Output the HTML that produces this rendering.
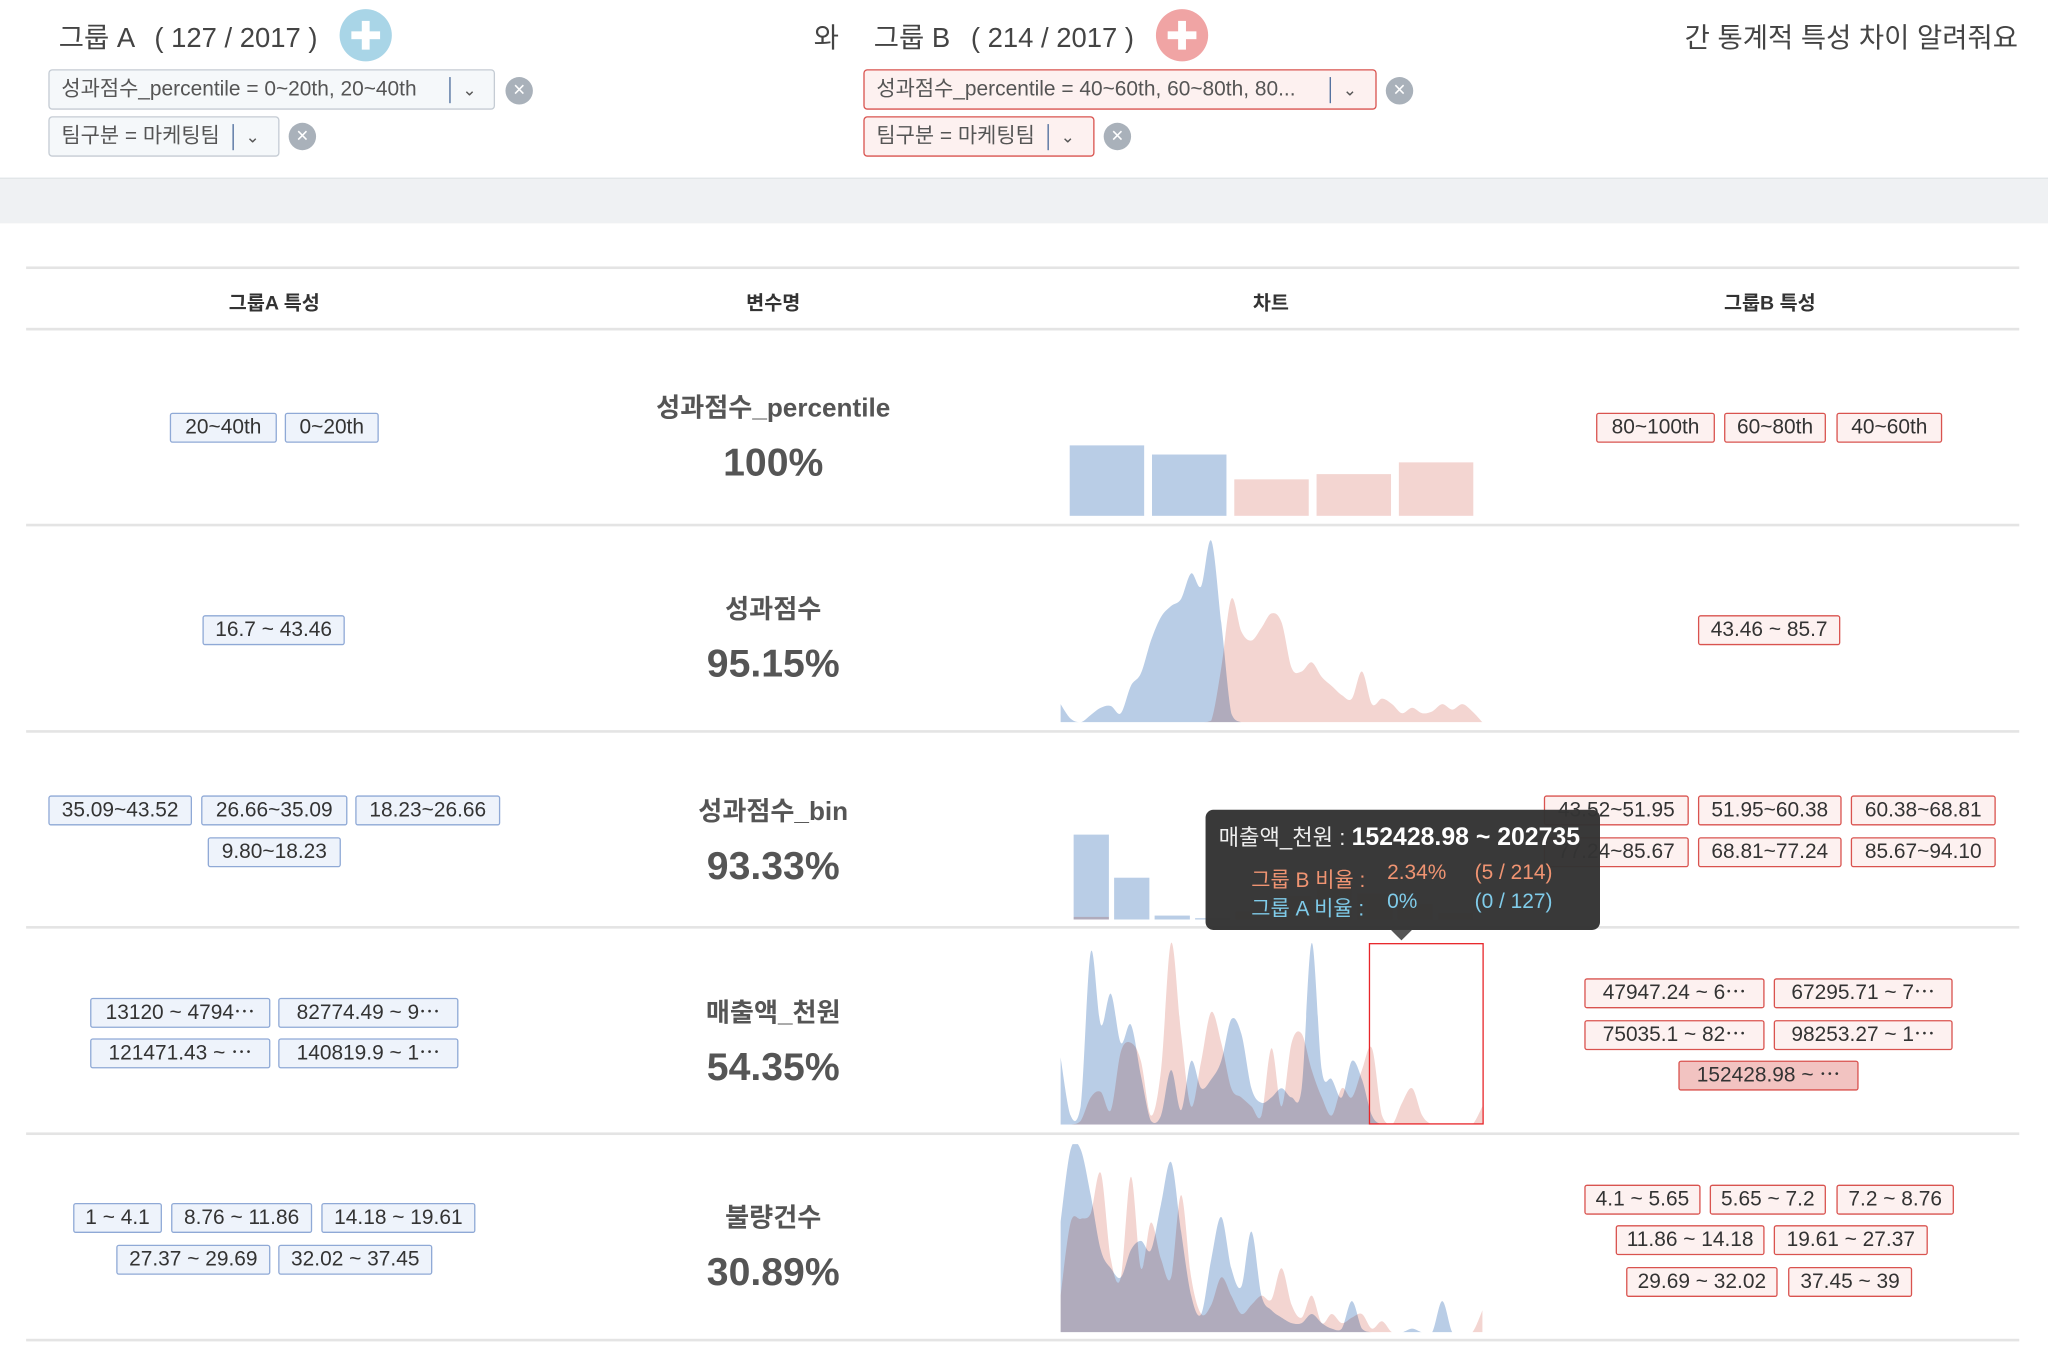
<!DOCTYPE html>
<html><head><meta charset="utf-8">
<style>
html,body{margin:0;padding:0;background:#fff;}
body{width:2048px;height:1348px;overflow:hidden;position:relative;}
#stage{position:absolute;left:0;top:0;width:1568px;height:1032px;transform:scale(1.306122);transform-origin:0 0;font-family:"Liberation Sans Narrow","Liberation Sans","Noto Sans CJK KR",sans-serif;color:#444;}
.abs{position:absolute;}
.t{position:absolute;white-space:nowrap;}
.tag{position:absolute;box-sizing:border-box;height:23px;line-height:21px;font-size:16px;text-align:center;border-radius:2px;white-space:nowrap;overflow:hidden;color:#333;}
.ta{border:1px solid #8fa9d6;background:#eef3fb;}
.tb{border:1px solid #d9534f;background:#fdf1f0;}
.hl{background:#f2c3c1;}
.chip{position:absolute;box-sizing:border-box;height:31px;line-height:29px;font-size:16px;padding-left:9px;border-radius:3px;color:#555;white-space:nowrap;}
.ca{border:1px solid #c5ccd4;background:#f5f8fa;}
.cb{border:1.5px solid #d9534f;background:#fdf1f0;}
.sep{position:absolute;top:5px;width:1px;height:20px;background:#4a6a9a;}
.chev{position:absolute;top:0;font-size:13px;color:#555;}
.xc{position:absolute;width:21px;height:21px;border-radius:50%;background:#a9b1ba;color:#fff;text-align:center;line-height:21px;font-size:16px;}
.hline{position:absolute;left:20px;width:1526px;height:2px;background:#e4e4e4;}
.th{position:absolute;top:221px;font-size:15px;font-weight:bold;color:#333;transform:translateX(-50%);}
.vn{position:absolute;left:592px;transform:translateX(-50%);font-size:20px;font-weight:bold;color:#555;white-space:nowrap;}
.pc{position:absolute;left:592px;transform:translateX(-50%);font-size:30px;font-weight:bold;color:#555;}
svg{position:absolute;overflow:hidden;}
</style></head>
<body>
<div id="stage">
  <!-- header -->
  <div class="t" style="left:45px;top:13px;font-size:21px;">그룹 A <span style="margin-left:10px;">( 127 / 2017 )</span></div>
  <div class="abs" style="left:260px;top:7px;width:40px;height:40px;border-radius:50%;background:#a9d5e7;">
    <div class="abs" style="left:9px;top:17px;width:22px;height:6px;background:#fff;"></div>
    <div class="abs" style="left:17px;top:9px;width:6px;height:22px;background:#fff;"></div>
  </div>
  <div class="t" style="left:623px;top:13px;font-size:21px;">와</div>
  <div class="t" style="left:669px;top:13px;font-size:21px;">그룹 B <span style="margin-left:10px;">( 214 / 2017 )</span></div>
  <div class="abs" style="left:885px;top:7px;width:40px;height:40px;border-radius:50%;background:#f0a4a4;">
    <div class="abs" style="left:9px;top:17px;width:22px;height:6px;background:#fff;"></div>
    <div class="abs" style="left:17px;top:9px;width:6px;height:22px;background:#fff;"></div>
  </div>
  <div class="t" style="right:23px;top:13px;font-size:21px;">간 통계적 특성 차이 알려줘요</div>

  <div class="chip ca" style="left:37px;top:53px;width:342px;">성과점수_percentile = 0~20th, 20~40th<div class="sep" style="left:306px;"></div><div class="chev" style="left:316px;">&#8964;</div></div>
  <div class="xc" style="left:387px;top:59px;">×</div>
  <div class="chip ca" style="left:37px;top:89px;width:177px;">팀구분 = 마케팅팀<div class="sep" style="left:140px;"></div><div class="chev" style="left:150px;">&#8964;</div></div>
  <div class="xc" style="left:221px;top:94px;">×</div>

  <div class="chip cb" style="left:661px;top:53px;width:393px;">성과점수_percentile = 40~60th, 60~80th, 80...<div class="sep" style="left:356px;"></div><div class="chev" style="left:366px;">&#8964;</div></div>
  <div class="xc" style="left:1061px;top:59px;">×</div>
  <div class="chip cb" style="left:661px;top:89px;width:177px;">팀구분 = 마케팅팀<div class="sep" style="left:140px;"></div><div class="chev" style="left:150px;">&#8964;</div></div>
  <div class="xc" style="left:845px;top:94px;">×</div>

  <div class="abs" style="left:0;top:136px;width:1568px;height:34px;background:#eff1f3;border-top:1px solid #e2e5e8;"></div>

  <!-- table -->
  <div class="hline" style="top:204px;"></div>
  <div class="th" style="left:210px;">그룹A 특성</div>
  <div class="th" style="left:592px;">변수명</div>
  <div class="th" style="left:973px;">차트</div>
  <div class="th" style="left:1355px;">그룹B 특성</div>
  <div class="hline" style="top:251px;"></div>
  <div class="hline" style="top:401px;"></div>
  <div class="hline" style="top:559px;"></div>
  <div class="hline" style="top:709px;"></div>
  <div class="hline" style="top:867px;"></div>
  <div class="hline" style="top:1025px;"></div>

  <!-- row 1 -->
  <div class="vn" style="top:296px;">성과점수_percentile</div>
  <div class="pc" style="top:338px;">100%</div>
  <div class="tag ta" style="left:130px;top:316px;width:82px;">20~40th</div>
  <div class="tag ta" style="left:218px;top:316px;width:72px;">0~20th</div>
  <div class="tag tb" style="left:1222px;top:316px;width:91px;">80~100th</div>
  <div class="tag tb" style="left:1320px;top:316px;width:78px;">60~80th</div>
  <div class="tag tb" style="left:1406px;top:316px;width:81px;">40~60th</div>

  <!-- row 2 -->
  <div class="vn" style="top:450px;">성과점수</div>
  <div class="pc" style="top:492px;">95.15%</div>
  <div class="tag ta" style="left:155px;top:471px;width:109px;">16.7 ~ 43.46</div>
  <div class="tag tb" style="left:1300px;top:471px;width:109px;">43.46 ~ 85.7</div>

  <!-- row 3 -->
  <div class="vn" style="top:605px;">성과점수_bin</div>
  <div class="pc" style="top:647px;">93.33%</div>
  <div class="tag ta" style="left:37px;top:609px;width:110px;">35.09~43.52</div>
  <div class="tag ta" style="left:154px;top:609px;width:112px;">26.66~35.09</div>
  <div class="tag ta" style="left:272px;top:609px;width:111px;">18.23~26.66</div>
  <div class="tag ta" style="left:159px;top:641px;width:102px;">9.80~18.23</div>
  <div class="tag tb" style="left:1182px;top:609px;width:111px;">43.52~51.95</div>
  <div class="tag tb" style="left:1300px;top:609px;width:110px;">51.95~60.38</div>
  <div class="tag tb" style="left:1417px;top:609px;width:111px;">60.38~68.81</div>
  <div class="tag tb" style="left:1182px;top:641px;width:111px;">77.24~85.67</div>
  <div class="tag tb" style="left:1300px;top:641px;width:110px;">68.81~77.24</div>
  <div class="tag tb" style="left:1417px;top:641px;width:111px;">85.67~94.10</div>

  <!-- row 4 -->
  <div class="vn" style="top:759px;">매출액_천원</div>
  <div class="pc" style="top:801px;">54.35%</div>
  <div class="tag ta" style="left:69px;top:764px;width:138px;">13120 ~ 4794⋯</div>
  <div class="tag ta" style="left:213px;top:764px;width:138px;">82774.49 ~ 9⋯</div>
  <div class="tag ta" style="left:69px;top:795px;width:138px;">121471.43 ~ ⋯</div>
  <div class="tag ta" style="left:213px;top:795px;width:138px;">140819.9 ~ 1⋯</div>
  <div class="tag tb" style="left:1213px;top:749px;width:138px;">47947.24 ~ 6⋯</div>
  <div class="tag tb" style="left:1358px;top:749px;width:137px;">67295.71 ~ 7⋯</div>
  <div class="tag tb" style="left:1213px;top:781px;width:138px;">75035.1 ~ 82⋯</div>
  <div class="tag tb" style="left:1358px;top:781px;width:137px;">98253.27 ~ 1⋯</div>
  <div class="tag tb hl" style="left:1285px;top:812px;width:138px;">152428.98 ~ ⋯</div>

  <!-- row 5 -->
  <div class="vn" style="top:916px;">불량건수</div>
  <div class="pc" style="top:958px;">30.89%</div>
  <div class="tag ta" style="left:56px;top:921px;width:68px;">1 ~ 4.1</div>
  <div class="tag ta" style="left:131px;top:921px;width:108px;">8.76 ~ 11.86</div>
  <div class="tag ta" style="left:246px;top:921px;width:118px;">14.18 ~ 19.61</div>
  <div class="tag ta" style="left:89px;top:953px;width:118px;">27.37 ~ 29.69</div>
  <div class="tag ta" style="left:213px;top:953px;width:118px;">32.02 ~ 37.45</div>
  <div class="tag tb" style="left:1213px;top:907px;width:89px;">4.1 ~ 5.65</div>
  <div class="tag tb" style="left:1309px;top:907px;width:89px;">5.65 ~ 7.2</div>
  <div class="tag tb" style="left:1406px;top:907px;width:90px;">7.2 ~ 8.76</div>
  <div class="tag tb" style="left:1237px;top:938px;width:114px;">11.86 ~ 14.18</div>
  <div class="tag tb" style="left:1358px;top:938px;width:118px;">19.61 ~ 27.37</div>
  <div class="tag tb" style="left:1245px;top:970px;width:116px;">29.69 ~ 32.02</div>
  <div class="tag tb" style="left:1369px;top:970px;width:95px;">37.45 ~ 39</div>

  <!-- charts -->
  <svg id="c1" style="left:812px;top:325px;" width="323" height="70"></svg>
  <svg id="c2" style="left:812px;top:410px;" width="323" height="143"></svg>
  <svg id="c3" style="left:812px;top:620px;" width="323" height="84"></svg>
  <svg id="c4" style="left:812px;top:718px;" width="323" height="143"></svg>
  <svg id="c5" style="left:812px;top:876px;" width="323" height="144"></svg>
  <div class="abs" style="left:1048px;top:722px;width:86px;height:137px;border:1.5px solid #e8262a;"></div>

  <!-- tooltip -->
  <div class="abs" style="left:923px;top:620px;width:302px;height:92px;background:#333;border-radius:6px;opacity:0.97;">
    <div class="t" style="left:10px;top:7px;font-size:17px;color:#eee;">매출액_천원 : <b style="color:#fff;font-size:19px;">152428.98 ~ 202735</b></div>
    <div class="t" style="left:35px;top:40px;font-size:16px;color:#f0916e;">그룹 B 비율 :</div>
    <div class="t" style="left:139px;top:40px;font-size:16px;color:#f0916e;">2.34%</div>
    <div class="t" style="left:206px;top:40px;font-size:16px;color:#f0916e;">(5 / 214)</div>
    <div class="t" style="left:35px;top:62px;font-size:16px;color:#7ccbea;">그룹 A 비율 :</div>
    <div class="t" style="left:139px;top:62px;font-size:16px;color:#7ccbea;">0%</div>
    <div class="t" style="left:206px;top:62px;font-size:16px;color:#7ccbea;">(0 / 127)</div>
  </div>
  <div class="abs" style="left:1065px;top:712px;width:0;height:0;border-left:8px solid transparent;border-right:8px solid transparent;border-top:8px solid #555;"></div>
</div>
<script>
// ---- data ----
const pctCategories = ["0~20th","20~40th","40~60th","60~80th","80~100th"];
const pctGroupA = [54, 47, 0, 0, 0];
const pctGroupB = [0, 0, 28, 32, 41];

const binCategories = ["9.80~18.23","18.23~26.66","26.66~35.09","35.09~43.52","43.52~51.95","51.95~60.38","60.38~68.81","68.81~77.24","77.24~85.67","85.67~94.10"];
const binGroupA = [65, 32, 3, 1, 0, 0, 0, 0, 0, 0];
const binGroupB = [2, 0, 0, 0, 6, 18, 26, 20, 12, 5];

const scoreDensityA = [0.1,0.02,0,0.04,0.08,0.09,0.05,0.2,0.27,0.45,0.58,0.64,0.68,0.82,0.75,1.0,0.55,0.05,0,0,0,0,0,0,0,0,0,0,0,0,0,0,0,0,0,0,0,0,0,0,0,0,0];
const scoreDensityB = [0,0,0,0,0,0,0,0,0,0,0,0,0,0,0,0.01,0.3,0.68,0.5,0.45,0.52,0.6,0.55,0.3,0.28,0.33,0.25,0.2,0.15,0.13,0.28,0.1,0.13,0.1,0.05,0.08,0.05,0.06,0.1,0.07,0.1,0.06,0];

const salesDensityA = [0.37,0.05,0.1,0.95,0.55,0.72,0.45,0.55,0.27,0.02,0.05,0.3,0.08,0.35,0.2,0.25,0.35,0.58,0.5,0.2,0.12,0.15,0.2,0.15,0.2,1.0,0.3,0.25,0.15,0.35,0.25,0.05,0,0,0,0,0,0,0,0,0,0,0];
const salesDensityB = [0,0,0.02,0.15,0.18,0.08,0.4,0.45,0.35,0.05,0.3,1.0,0.5,0.1,0.35,0.62,0.45,0.2,0.15,0.1,0.05,0.42,0.1,0.45,0.5,0.3,0.15,0.05,0.2,0.15,0.3,0.42,0.05,0,0.12,0.2,0.05,0,0,0,0,0,0.1];

const defectDensityA = [0.6,1.0,1.0,0.75,0.45,0.35,0.3,0.45,0.5,0.45,0.7,0.93,0.55,0.2,0.1,0.4,0.63,0.35,0.25,0.55,0.2,0.12,0.08,0.05,0.05,0.1,0.05,0.02,0.02,0.17,0.02,0,0,0,0,0.02,0,0,0.17,0,0,0,0];
const defectDensityB = [0.2,0.6,0.62,0.65,0.87,0.4,0.3,0.85,0.35,0.6,0.4,0.3,0.75,0.3,0.1,0.15,0.3,0.2,0.1,0.15,0.2,0.18,0.35,0.15,0.08,0.2,0.05,0.1,0.05,0.08,0.1,0.02,0.06,0,0,0,0,0,0,0,0,0,0.12];

const BLUE = "#b9cde6", PINK = "#f3d5d1";
const NS = "http://www.w3.org/2000/svg";

function mk(tag, attrs){ const e = document.createElementNS(NS, tag); for (const k in attrs) e.setAttribute(k, attrs[k]); return e; }

function barChart(svgId, a, b, maxV, barW, step, x0){
  const svg = document.getElementById(svgId);
  const H = +svg.getAttribute("height");
  const y = v => H - v / maxV * H;
  for (let i = 0; i < a.length; i++){
    const x = x0 + i * step;
    if (a[i] > 0){
      const r = mk("rect", {x: x, y: y(a[i]), width: barW, height: H - y(a[i]), fill: BLUE});
      
      
      svg.appendChild(r);
    }
    if (b[i] > 0){
      const r = mk("rect", {x: x, y: y(b[i]), width: barW, height: H - y(b[i]), fill: PINK, style: "mix-blend-mode:multiply"});
      
      
      svg.appendChild(r);
    }
  }
}

function areaPath(vals, W, H){
  const n = vals.length;
  const pts = vals.map((v, i) => [i * W / (n - 1), H - v * (H - 4)]);
  let d = "M0," + H + " L" + pts[0][0] + "," + pts[0][1];
  for (let i = 0; i < n - 1; i++){
    const p0 = pts[Math.max(0, i - 1)], p1 = pts[i], p2 = pts[i + 1], p3 = pts[Math.min(n - 1, i + 2)];
    const t = 0.5 / 3;
    const c1 = [p1[0] + (p2[0] - p0[0]) * t, Math.min(H, p1[1] + (p2[1] - p0[1]) * t)];
    const c2 = [p2[0] - (p3[0] - p1[0]) * t, Math.min(H, p2[1] - (p3[1] - p1[1]) * t)];
    d += " C" + c1[0].toFixed(1) + "," + c1[1].toFixed(1) + " " + c2[0].toFixed(1) + "," + c2[1].toFixed(1) + " " + p2[0].toFixed(1) + "," + p2[1].toFixed(1);
  }
  d += " L" + W + "," + H + " Z";
  return d;
}

function densityChart(svgId, a, b){
  const svg = document.getElementById(svgId);
  const W = +svg.getAttribute("width"), H = +svg.getAttribute("height");
  const pa = mk("path", {d: areaPath(a, W, H), fill: BLUE});
  
  
  svg.appendChild(pa);
  const pb = mk("path", {d: areaPath(b, W, H), fill: PINK, style: "mix-blend-mode:multiply"});
  
  
  svg.appendChild(pb);
}

barChart("c1", pctGroupA, pctGroupB, 70, 57, 63, 7);
densityChart("c2", scoreDensityA, scoreDensityB);
barChart("c3", binGroupA, binGroupB, 84, 27, 31, 10);
densityChart("c4", salesDensityA, salesDensityB);
densityChart("c5", defectDensityA, defectDensityB);
</script>
</body></html>
